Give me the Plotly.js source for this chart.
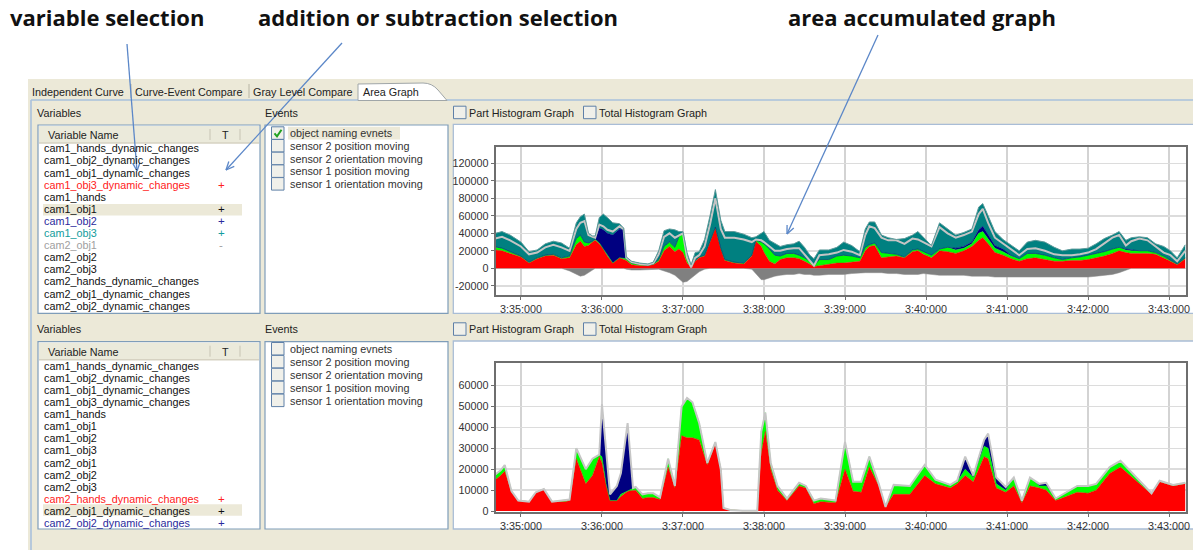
<!DOCTYPE html>
<html><head><meta charset="utf-8">
<script src="https://cdn.plot.ly/plotly-3.0.1.min.js"></script>
<style>html,body{margin:0;padding:0;background:#fff;overflow:hidden}#chart{width:1193px;height:550px}</style>
</head><body><div id="chart"></div>
<script>
// ================= DATA =================
const tickSeconds = [60,120,180,240,300,360,420,480,540];          // seconds after 3:34:00
const tickLabels  = ['3:35:000','3:36:000','3:37:000','3:38:000','3:39:000','3:40:000','3:41:000','3:42:000','3:43:000'];
const topYTicks    = [-20000,0,20000,40000,60000,80000,100000,120000];
const bottomYTicks = [0,10000,20000,30000,40000,50000,60000];

// ---- upper chart (seconds after 3:34:00) ----
const topTime = [41,46,52,60,66,72,78,84,90,96,
  101,104,107,110,113,115,118,121,124,128,
  133,136,138,142,148,154,158,162,166,170,
  174,177,180,183,186,189,192,196,200,204,
  208,211,218,225,231,234,238,240,244,248,
  252,257,262,266,270,274,277,281,288,294,
  299,305,311,315,318,322,327,332,338,344,
  350,354,358,364,370,376,382,388,394,399,
  402,406,411,417,423,429,435,441,448,455,
  461,468,474,480,486,492,498,503,508,512,
  518,524,530,536,541,546,552];
const topRed = [21000,20000,17000,13000,6000,11000,14000,15000,11000,12000,
  27000,31000,25000,26000,30000,32000,28000,22000,14000,6000,
  12000,10000,9000,4000,3000,3000,4000,8000,20000,25000,
  19000,22000,18000,6000,1000,8000,12000,14000,30000,46000,
  22000,9000,6000,5000,14000,31000,25000,18000,8000,5000,
  10000,12000,12000,11000,8000,4000,2000,3000,5000,6000,
  6000,7000,8000,20000,25000,26000,12000,13000,14000,12000,
  19000,20000,16000,12000,20000,19000,17000,20000,25000,32000,
  35000,28000,18000,15000,11000,8000,11000,12000,10000,8000,
  8000,9000,9000,10000,12000,14000,17000,20000,18000,17000,
  17000,17000,16000,12000,8000,4000,11000];
const topGreen = [3500,3000,2000,1000,1000,1000,1000,1000,1000,2000,
  7000,7000,5000,3000,1000,1000,1000,0,0,0,
  0,1000,2000,2000,1500,500,1000,2000,5000,5000,
  5000,14000,22000,6000,0,1000,1000,1000,1000,1000,
  1000,1000,1000,1000,1000,1000,5000,10000,14000,10000,
  4000,5000,5000,4000,4000,4000,1000,7000,5000,8000,
  9000,7000,4000,4000,2000,3000,6000,4000,2000,1000,
  2000,2000,3000,3000,2000,5000,4000,3000,3000,8000,
  7000,6000,5000,4000,3000,3000,6000,5000,5000,4000,
  2000,3000,4000,5000,5000,5000,5000,4000,3000,3000,
  3000,3000,2000,2000,1000,1000,1000];
const topNavy = [0,0,0,0,0,0,0,0,0,0,
  0,0,0,0,0,1000,17000,22000,26000,32000,
  33000,33000,0,0,0,0,0,0,0,0,
  0,0,0,0,0,0,0,0,0,0,
  0,0,0,0,0,0,0,0,0,0,
  0,0,0,0,0,0,0,0,0,0,
  0,0,0,0,0,0,0,0,0,0,
  0,0,0,0,0,0,2000,2000,2000,4000,
  6000,4000,3000,3000,1000,0,0,0,0,0,
  0,0,0,0,0,0,0,0,1000,1000,
  0,0,0,0,0,0,0];
const topTealLow = [9500,13000,13000,11000,9000,6000,9000,11000,12000,6000,
  11000,14000,24000,9000,5000,1000,4000,4000,4000,4000,
  3000,1000,1000,1000,500,500,1000,6000,11000,10000,
  11000,2000,0,0,0,3000,2000,10000,19000,33000,
  22000,25000,28000,27000,15000,1000,2000,2000,3000,5000,
  6000,5000,6000,8000,4000,0,0,5000,6000,4000,
  6000,5000,3000,14000,21000,17000,17000,15000,16000,15000,
  13000,11000,11000,10000,25000,16000,12000,13000,12000,18000,
  20000,14000,9000,6000,7000,4000,5000,6000,5000,4000,
  5000,3000,3000,3000,5000,9000,13000,14000,4000,10000,
  14000,12000,7000,4000,6000,3000,8000];
const topTealHigh = [6000,6000,6000,5000,3000,3000,4000,4000,5000,3000,
  7000,7000,8000,2000,1000,2000,8000,14000,14000,10000,
  3000,1000,1000,1000,1000,1000,1000,4000,7000,5000,
  9000,4000,2000,6000,3000,6000,4000,8000,10000,10000,
  10000,7000,7000,6000,5000,3000,8000,12000,7000,8000,
  5000,5000,5000,8000,8000,7000,8000,6000,5000,6000,
  9000,7000,4000,7000,5000,7000,3000,3000,1000,6000,
  4000,9000,6000,1000,5000,5000,3000,3000,3000,8000,
  6000,8000,7000,5000,5000,5000,8000,9000,10000,8000,
  5000,7000,6000,5000,6000,6000,3000,4000,6000,4000,
  2000,3000,3000,7000,5000,4000,7000];
const topNegative = [0,0,0,0,0,0,0,0,0,-3000,
  -7000,-9000,-8000,-5000,-2000,0,0,0,0,0,
  0,0,-1000,-2000,-2000,-1500,-1000,-1000,-3000,-5000,
  -8000,-12000,-16000,-15000,-11000,-7000,-4000,-1000,0,0,
  0,0,0,0,-1000,-6000,-13000,-13000,-11000,-9000,
  -8000,-7000,-7000,-6000,-7000,-7000,-8000,-8000,-7000,-7000,
  -7000,-6000,-5000,-5000,-5000,-5000,-5000,-6000,-6000,-7000,
  -7000,-7000,-6000,-7000,-8000,-8000,-8000,-8000,-9000,-9000,
  -9000,-9000,-10000,-10000,-10000,-10000,-10000,-10000,-10000,-10000,
  -10000,-10000,-10000,-10000,-9000,-8000,-7000,-5000,-2000,0,
  0,0,0,0,0,0,0];

// ---- lower chart ----
const bottomTime = [41,45,48,53,58,66,71,77,83,93,
  96,101,108,113,118,120,123,126,131,134,
  139,143,145,150,154,158,163,169,174,179,
  183,187,192,198,204,208,210,215,224,235,
  238,241,245,250,257,266,271,277,282,293,
  300,306,312,318,325,330,336,348,359,367,
  378,383,389,395,403,406,412,419,425,431,
  437,444,449,456,472,480,486,496,504,527,
  533,543,552];
const bottomRed = [15000,17000,19000,9000,5000,4500,9000,10500,4500,4500,
  5000,25000,13000,17000,26000,23000,13000,5000,5000,7000,
  9500,10000,10000,6000,6500,6500,5500,21000,11000,36000,
  35000,35000,34000,22000,32000,20000,1500,500,200,200,
  28000,38000,20000,10000,5000,12000,11000,3500,4500,4000,
  20000,9500,9000,21000,12000,2000,8000,8000,17000,13000,
  11000,13000,17000,14000,26000,25000,11000,9000,12000,4000,
  12000,11000,10000,5000,9000,8500,10000,18000,21000,8000,
  14000,12000,13000];
const bottomGreen = [2500,2500,3000,500,0,0,0,0,0,500,
  500,5000,7000,8000,1000,3000,0,0,0,1000,
  0,1000,1500,2000,2000,2000,1000,4000,1000,14000,
  19000,17000,8000,1000,1000,0,0,0,0,0,
  10000,9000,3000,2000,1000,1500,1000,1500,1500,1000,
  13000,4500,5000,5000,1000,0,4500,4000,5000,2000,
  1500,1000,3000,2000,5000,5000,2000,1000,4000,1000,
  4000,1000,2000,1000,3000,3500,3000,3000,3000,500,
  500,500,500];
const bottomNavy = [0,0,0,0,0,0,0,0,0,0,
  0,0,0,0,0,25000,17000,3000,7000,10000,
  32500,0,0,0,0,0,0,0,0,0,
  0,0,0,0,0,0,0,0,0,0,
  0,0,0,0,0,0,0,0,0,0,
  0,0,0,0,0,0,0,0,0,0,
  0,500,6000,1000,3000,7000,3000,1500,0,0,
  0,1000,1500,0,0,0,0,0,0,0,
  0,0,0];

// ---- panel texts ----
const tabNames = ['Independent Curve','Curve-Event Compare','Gray Level Compare','Area Graph'];
const calloutTexts = ['variable selection','addition or subtraction selection','area accumulated graph'];
const topVariables = ['cam1_hands_dynamic_changes','cam1_obj2_dynamic_changes','cam1_obj1_dynamic_changes','cam1_obj3_dynamic_changes',
  'cam1_hands','cam1_obj1','cam1_obj2','cam1_obj3','cam2_obj1','cam2_obj2','cam2_obj3',
  'cam2_hands_dynamic_changes','cam2_obj1_dynamic_changes','cam2_obj2_dynamic_changes'];
const topSigns = ['','','','+','','+','+','+','-','','','','',''];
const bottomVariables = topVariables.slice();
const bottomSigns = ['','','','','','','','','','','','+','+','+'];
const eventNames = ['object naming evnets','sensor 2 position moving','sensor 2 orientation moving','sensor 1 position moving','sensor 1 orientation moving'];
const optionNames = ['Part Histogram Graph','Total Histogram Graph'];

// ================= DRAWING =================
const W = 1193, H = 550;
const X = v => v / W, Y = v => 1 - v / H;
const UI = 'Liberation Sans, Arial, sans-serif';
const BEIGE = '#ECE9D8', LISTBORDER = '#7F9DB9', ARROW = '#5b87c8';
const shapes = [], annotations = [];

function rect(x0,y0,x1,y1,fill,stroke,lw){
  shapes.push({type:'rect',xref:'paper',yref:'paper',layer:'below',x0:X(x0),x1:X(x1),y0:Y(y1),y1:Y(y0),
    fillcolor:fill,line:{color:stroke||'rgba(0,0,0,0)',width:stroke?(lw||1):0}});
}
function seg(x0,y0,x1,y1,color,w,above){
  shapes.push({type:'line',xref:'paper',yref:'paper',layer:above?'above':'below',
    x0:X(x0),y0:Y(y0),x1:X(x1),y1:Y(y1),line:{color:color,width:w}});
}
function pathPx(pts,fill,stroke,lw,above){
  const d = pts.map((p,i)=>(i?'L':'M')+X(p[0])+','+Y(p[1])).join(' ');
  shapes.push({type:'path',xref:'paper',yref:'paper',layer:above?'above':'below',path:d,
    fillcolor:fill||'rgba(0,0,0,0)',line:{color:stroke,width:lw}});
}
function label(x,y,str,size,color,anchor,family){
  annotations.push({xref:'paper',yref:'paper',x:X(x),y:Y(y),text:str,showarrow:false,
    xanchor:anchor||'left',yanchor:'middle',borderpad:0,borderwidth:0,
    font:{family:family||UI,size:size||10.8,color:color||'#222'}});
}
function arrow(x0,y0,x1,y1){
  seg(x0,y0,x1,y1,ARROW,1.3,true);
  const a = Math.atan2(y0-y1,x0-x1);
  [0.42,-0.42].forEach(d=>seg(x1,y1,x1+9*Math.cos(a+d),y1+9*Math.sin(a+d),ARROW,1.3,true));
}
function checkbox(x,yc,checked){
  rect(x,yc-6.5,x+12.5,yc+6,'#f0f0ea','#5f80a8',1);
  if(checked) pathPx([[x+3,yc],[x+5.5,yc+3],[x+10,yc-3.5]],null,'#21a121',2);
}

// page background / tab strip
rect(28,79,1196,552,BEIGE);
seg(31,100,31,552,'#a9c0dc',1.6);
seg(31,100,1196,100,'#a9c0dc',1.3);
shapes.push({type:'path',xref:'paper',yref:'paper',layer:'below',
  path:'M'+X(358)+','+Y(100.5)+' L'+X(358)+','+Y(84)+' L'+X(423)+','+Y(83)+' Q'+X(432)+','+Y(83)+' '+X(438)+','+Y(90)+' L'+X(447)+','+Y(100.5)+' Z',
  fillcolor:'#ffffff',line:{color:'#a0a6a8',width:1}});
seg(131,84,131,98,'#b8b5a5',1);
seg(249,84,249,98,'#b8b5a5',1);
const tabX = [32,135,253,363];
tabNames.forEach((t,i)=>label(tabX[i],91.5,t,10.8,'#222'));

// callouts
const calloutX = [10,258,788];
calloutTexts.forEach((t,i)=>label(calloutX[i],17,'<b>'+t+'</b>',22,'#111','left','Open Sans, Liberation Sans, sans-serif'));

// one panel (variables + events + chart box)
function panel(o){
  label(37,o.labelY,'Variables'); label(265,o.labelY,'Events');
  rect(38,o.boxTop,260,o.boxBot,'#ffffff',LISTBORDER,1.2);
  rect(39,o.boxTop+1,259,o.boxTop+18,'#ebeadb');
  seg(39,o.boxTop+18,259,o.boxTop+18,'#d6d2c2',1.5);
  seg(210,o.boxTop+4,210,o.boxTop+15,'#c7c4b4',1);
  seg(240,o.boxTop+4,240,o.boxTop+15,'#c7c4b4',1);
  label(48,o.boxTop+10,'Variable Name'); label(222,o.boxTop+10,'T');
  rect(43,o.hlY-5.8,242,o.hlY+5.8,BEIGE);
  o.names.forEach((n,i)=>{
    const y = o.rowY + 12.1*i;
    label(44,y,n,10.8,o.colors[i]);
    if(o.signs[i]) label(221,y,o.signs[i],11.5,o.colors[i],'center');
  });
  rect(265,o.boxTop,448,o.boxBot,'#ffffff',LISTBORDER,1.2);
  if(o.eventHL) rect(288,o.evY-6.5,400,o.evY+6.3,BEIGE);
  eventNames.forEach((e,i)=>{
    const y = o.evY + o.evStep*i;
    checkbox(271.5,y,o.eventHL && i===0);
    label(290,y,e,10.8,'#333');
  });
  checkbox(453.5,o.labelY,false); label(468.5,o.labelY,optionNames[0]);
  checkbox(583.5,o.labelY,false); label(599,o.labelY,optionNames[1]);
  rect(453.3,o.boxTop-0.7,1197,o.boxBot,'#ffffff','#a9bdd6',1.3);
}
const c = {k:'#111',r:'#ff2020',b:'#2a2a9c',t:'#129c9c',g:'#a0a0a0'};
panel({labelY:112.7,boxTop:125,boxBot:313.3,rowY:148.3,hlY:209.7,evY:133.3,evStep:12.7,eventHL:true,
  names:topVariables,signs:topSigns,
  colors:[c.k,c.k,c.k,c.r,c.k,c.k,c.b,c.t,c.g,c.k,c.k,c.k,c.k,c.k]});
panel({labelY:329.3,boxTop:341.7,boxBot:529,rowY:365.7,hlY:510,evY:349,evStep:12.9,eventHL:false,
  names:bottomVariables,signs:bottomSigns,
  colors:[c.k,c.k,c.k,c.k,c.k,c.k,c.k,c.k,c.k,c.k,c.k,c.r,c.k,c.b]});

// arrows
arrow(127,44,137,171);
arrow(342,43,226,170);
arrow(878,35,787,234);

// ================= TRACES =================
function stackTrace(xs,ys,xa,ya,fill,lineColor,lineWidth,group,name){
  return {type:'scatter',mode:'lines',x:xs,y:ys,xaxis:xa,yaxis:ya,stackgroup:group,name:name,
    fillcolor:fill,line:{color:lineColor,width:lineWidth,shape:'linear'},hoverinfo:'skip'};
}
const traces = [
  {type:'scatter',mode:'lines',x:topTime,y:topNegative,xaxis:'x',yaxis:'y',fill:'tozeroy',
    fillcolor:'#808080',line:{color:'#8a8a8a',width:0.5},name:'cam2_obj1'},
  stackTrace(topTime,topRed,'x','y','#ff0000','#ff0000',0.5,'top','cam1_obj3_dynamic_changes'),
  stackTrace(topTime,topGreen,'x','y','#00ff00','#00ff00',0.5,'top','cam1_obj1'),
  stackTrace(topTime,topNavy,'x','y','#000080','#000080',0.5,'top','cam1_obj2'),
  stackTrace(topTime,topTealLow,'x','y','#008080','#c4c4c4',2,'top','cam1_obj3 (a)'),
  stackTrace(topTime,topTealHigh,'x','y','#008080','#5e9a9a',1,'top','cam1_obj3 (b)'),
  stackTrace(bottomTime,bottomRed,'x2','y2','#ff0000','#ff0000',0.5,'bottom','cam2_hands_dynamic_changes'),
  stackTrace(bottomTime,bottomGreen,'x2','y2','#00ff00','#00ff00',0.5,'bottom','cam2_obj1_dynamic_changes'),
  stackTrace(bottomTime,bottomNavy,'x2','y2','#000080','#c6c6c6',2,'bottom','cam2_obj2_dynamic_changes')
];

function xAxis(anchor){
  return {domain:[X(495.7),X(1185.7)],range:[41.3,552.3],anchor:anchor,
    tickmode:'array',tickvals:tickSeconds,ticktext:tickLabels,
    showgrid:true,gridcolor:'#d3d3d3',gridwidth:2,zeroline:false,
    showline:true,mirror:true,linecolor:'#6e6e6e',linewidth:2,
    ticks:'outside',ticklen:3,tickcolor:'#6e6e6e',
    tickfont:{family:UI,size:10.8,color:'#333'},fixedrange:true};
}
function yAxis(anchor,dom,range,ticks){
  return {domain:dom,range:range,anchor:anchor,tickmode:'array',tickvals:ticks,ticktext:ticks.map(String),
    showgrid:true,gridcolor:'#dcdcdc',gridwidth:1.5,zeroline:false,
    showline:true,mirror:true,linecolor:'#6e6e6e',linewidth:2,
    ticks:'outside',ticklen:3,tickcolor:'#6e6e6e',
    tickfont:{family:UI,size:10.8,color:'#333'},fixedrange:true};
}

const layout = {
  width:W,height:H,autosize:false,margin:{l:0,r:0,t:0,b:0,pad:0},
  paper_bgcolor:'#ffffff',plot_bgcolor:'#ffffff',showlegend:false,hovermode:false,
  xaxis:xAxis('y'),
  yaxis:yAxis('x',[Y(295),Y(146.7)],[-30500,139000],topYTicks),
  xaxis2:xAxis('y2'),
  yaxis2:yAxis('x2',[Y(511.7),Y(363.3)],[-300,70600],bottomYTicks),
  shapes:shapes,annotations:annotations
};
Plotly.newPlot('chart',traces,layout,{staticPlot:true,displayModeBar:false});
</script></body></html>
